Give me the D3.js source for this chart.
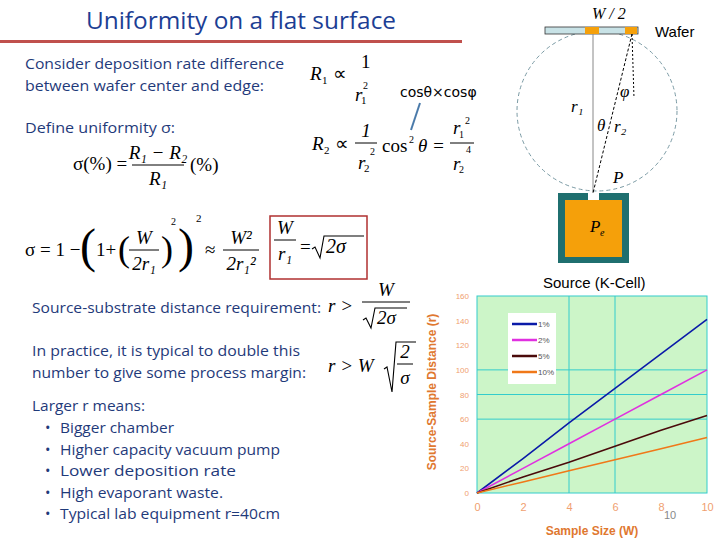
<!DOCTYPE html>
<html><head><meta charset="utf-8">
<script src="https://cdn.jsdelivr.net/npm/d3@7"></script>
<style>body{margin:0;background:#fff}svg{display:block}</style></head>
<body><svg id="s" width="720" height="540"></svg>
<script>
const sizes = [0, 2, 4, 6, 8, 10];
const seriesNames = ["1%", "2%", "5%", "10%"];
const r1pct = [0, 28, 57, 85, 113, 141];
const r2pct = [0, 20, 40, 60, 80, 100];
const r5pct = [0, 13, 25, 38, 51, 63];
const r10pct = [0, 9, 18, 27, 36, 45];
const xTicks = [0, 2, 4, 6, 8, 10];
const yTicks = [0, 20, 40, 60, 80, 100, 120, 140, 160];
const colors = ["#0a1aa8", "#e030e0", "#4a0a0a", "#f07818"];

const svg = d3.select("#s");
const blue = "#1f3a7a";
const sans = "'Open Sans', sans-serif";
const serif = "'Liberation Serif', serif";
function t(x, y, s, o = {}) {
  const e = svg.append("text").attr("x", x).attr("y", y).text(s)
    .attr("font-family", o.f || sans).attr("font-size", o.s || 14.5)
    .attr("fill", o.c || blue);
  if (o.i) e.attr("font-style", "italic");
  if (o.w) e.attr("font-weight", o.w);
  if (o.a) e.attr("text-anchor", o.a);
  return e;
}
function fit(e, w) { e.attr("textLength", w).attr("lengthAdjust", "spacingAndGlyphs"); return e; }
// title
fit(t(86, 29, "Uniformity on a flat surface", {s: 24, c: "#1c3e94"}), 310);
svg.append("rect").attr("x", 0).attr("y", 40).attr("width", 462).attr("height", 3).attr("fill", "#c0504d");
// text
fit(t(25, 69, "Consider deposition rate difference"), 259);
fit(t(25, 91, "between wafer center and edge:"), 239);
fit(t(25, 133, "Define uniformity σ:"), 150);
fit(t(32, 313, "Source-substrate distance requirement:"), 289);
fit(t(32, 356, "In practice, it is typical to double this"), 268);
fit(t(32, 378, "number to give some process margin:"), 274);
fit(t(32, 411, "Larger r means:"), 113);
const bullets = ["Bigger chamber", "Higher capacity vacuum pump", "Lower deposition rate", "High evaporant waste.", "Typical lab equipment r=40cm"];
const bw = [114, 220, 176, 163, 220];
bullets.forEach((s, i) => { t(45, 433 + i * 21.6, "•"); fit(t(60, 433 + i * 21.6, s), bw[i]); });

// formulas
const F = {f: serif, c: "#000", s: 19};
function frac(x, y, w, num, den) {
  svg.append("line").attr("x1", x).attr("x2", x + w).attr("y1", y).attr("y2", y).attr("stroke", "#000").attr("stroke-width", 1);
  t(x + w / 2, y - 6, num, {...F, a: "middle"}).attr("font-style", "italic");
  t(x + w / 2, y + 20, den, {...F, a: "middle"}).attr("font-style", "italic");
}
function rad(x, y0, y1, w) {
  const m = (y0 + y1) / 2;
  svg.append("path").attr("d", `M${x},${m + 2} l3,-2 l5,${y1 - m} L${x + 12},${y0} H${x + 12 + w}`)
    .attr("fill", "none").attr("stroke", "#000").attr("stroke-width", 1.1);
}
t(310, 80, "R", {...F, i: 1}); t(322, 84, "1", {...F, s: 11}); t(333, 80, "∝", F);
t(361, 68, "1", F); t(355, 101, "r", {...F, i: 1}); t(361, 104, "1", {...F, s: 11}); t(363, 89, "2", {...F, s: 10});
t(400, 97, "cosθ×cosφ", {s: 14, c: "#000", f: "'DejaVu Sans', sans-serif"});
svg.append("line").attr("x1", 420).attr("y1", 103).attr("x2", 411).attr("y2", 130).attr("stroke", "#4a7aaa").attr("stroke-width", 2);
t(312, 150, "R", {...F, i: 1}); t(324, 154, "2", {...F, s: 11}); t(335, 150, "∝", F);
frac(355, 143, 22, "1", ""); t(358, 169, "r", {...F, i: 1}); t(364, 172, "2", {...F, s: 11}); t(370, 155, "2", {...F, s: 10});
t(382, 152, "cos", F); t(409, 143, "2", {...F, s: 10}); t(418, 152, "θ =", {...F, i: 1});
frac(450, 143, 24, "", ""); t(453, 134, "r", {...F, i: 1}); t(459, 138, "1", {...F, s: 10}); t(465, 124, "2", {...F, s: 10});
t(453, 170, "r", {...F, i: 1}); t(459, 173, "2", {...F, s: 10}); t(466, 153, "4", {...F, s: 10});

t(73, 170, "σ(%) =", F);
frac(132, 165, 52, "R₁ − R₂", "R₁"); t(190, 171, "(%)", F);

t(25, 256, "σ = 1 − ", F); t(80, 262, "(", {...F, s: 48}); t(96, 256, "1+", F);
t(118, 261, "(", {...F, s: 36}); frac(129, 250, 30, "W", "2r₁"); t(161, 261, ")", {...F, s: 36}); t(171, 225, "2", {...F, s: 10});
t(178, 262, ")", {...F, s: 48}); t(196, 222, "2", {...F, s: 11});
t(205, 256, "≈", F); frac(223, 250, 36, "W²", "2r₁²");
svg.append("rect").attr("x", 270).attr("y", 216).attr("width", 97).attr("height", 63).attr("fill", "none").attr("stroke", "#b03030").attr("stroke-width", 1.5);
frac(274, 240, 22, "W", "r₁"); t(300, 253, "=", F);
rad(312, 236, 258, 40); t(326, 253, "2σ", {...F, s: 20}).attr("font-style", "italic");
t(328, 312, "r >", {...F, i: 1}); svg.append("line").attr("x1", 362).attr("x2", 410).attr("y1", 302).attr("y2", 302).attr("stroke", "#000");
t(386, 296, "W", {...F, a: "middle", i: 1}); rad(363, 308, 328, 32); t(377, 324, "2σ", {...F, i: 1});
t(328, 372, "r > W", {...F, i: 1}); rad(384, 342, 392, 20); frac(397, 364, 16, "2", "σ");

// diagram
const dg = svg.append("g");
dg.append("circle").attr("cx", 597).attr("cy", 111).attr("r", 80).attr("fill", "none").attr("stroke", "#7a9aa4").attr("stroke-dasharray", "4,3");
dg.append("rect").attr("x", 545).attr("y", 27).attr("width", 93).attr("height", 7).attr("fill", "#c8e2e6").attr("stroke", "#333").attr("stroke-width", 0.8);
dg.append("rect").attr("x", 585).attr("y", 27).attr("width", 14).attr("height", 7).attr("fill", "#f5a00a");
dg.append("rect").attr("x", 625).attr("y", 27).attr("width", 12).attr("height", 7).attr("fill", "#f5a00a");
dg.append("line").attr("x1", 593).attr("y1", 34).attr("x2", 593).attr("y2", 193).attr("stroke", "#888");
dg.append("line").attr("x1", 632).attr("y1", 34).attr("x2", 593).attr("y2", 193).attr("stroke", "#000").attr("stroke-dasharray", "3,2");
dg.append("line").attr("x1", 632).attr("y1", 34).attr("x2", 634).attr("y2", 98).attr("stroke", "#000").attr("stroke-dasharray", "2,2");
dg.append("rect").attr("x", 558).attr("y", 193).attr("width", 71).attr("height", 70).attr("fill", "#1f6f6f");
dg.append("rect").attr("x", 565).attr("y", 200).attr("width", 57).attr("height", 57).attr("fill", "#f5a00a");
dg.append("rect").attr("x", 588).attr("y", 193).attr("width", 11).attr("height", 7).attr("fill", "#fff");
t(592, 19, "W / 2", {...F, s: 16, i: 1});
t(655, 37, "Wafer", {s: 15, c: "#000", f: "'Liberation Sans', sans-serif"});
t(571, 112, "r₁", {...F, s: 17, i: 1});
t(620, 97, "φ", {...F, s: 17, i: 1});
t(597, 131, "θ", {...F, s: 17, i: 1});
t(614, 132, "r₂", {...F, s: 17, i: 1});
t(613, 183, "P", {...F, s: 17, i: 1});
t(590, 232, "P", {...F, s: 17, i: 1}); t(600, 236, "e", {...F, s: 10, i: 1});
t(543, 288, "Source (K-Cell)", {s: 15, c: "#000", f: "'Liberation Sans', sans-serif"});

// chart
const x = d3.scaleLinear().domain([0, 10]).range([477, 707]);
const y = d3.scaleLinear().domain([0, 160]).range([493, 296]);
const g = svg.append("g");
g.append("rect").attr("x", x(0)).attr("y", y(160)).attr("width", x(10) - x(0)).attr("height", y(0) - y(160)).attr("fill", "#ccf5c8");
[4, 6].forEach(v => g.append("line").attr("x1", x(v)).attr("x2", x(v)).attr("y1", y(0)).attr("y2", y(160)).attr("stroke", "#33cccc"));
[60, 80, 100].forEach(v => g.append("line").attr("x1", x(0)).attr("x2", x(10)).attr("y1", y(v)).attr("y2", y(v)).attr("stroke", "#33cccc"));
g.append("rect").attr("x", x(0)).attr("y", y(160)).attr("width", x(10) - x(0)).attr("height", y(0) - y(160)).attr("fill", "none").attr("stroke", "#33cccc");
const ya = g.append("g").attr("transform", `translate(${x(0)},0)`).call(d3.axisLeft(y).tickValues(yTicks).tickSize(0).tickPadding(8));
const xa = g.append("g").attr("transform", `translate(0,${y(0)})`).call(d3.axisBottom(x).tickValues(xTicks).tickSize(0).tickPadding(10));
[ya, xa].forEach(a => { a.select(".domain").remove(); a.selectAll("text").attr("fill", "#f0a070").attr("font-family", "'Liberation Sans', sans-serif"); });
ya.selectAll("text").attr("font-size", 8);
xa.selectAll("text").attr("font-size", 11);
const data = [r1pct, r2pct, r5pct, r10pct];
const line = d3.line().x((d, i) => x(sizes[i])).y(d => y(d));
data.forEach((d, k) => g.append("path").attr("d", line(d)).attr("fill", "none").attr("stroke", colors[k]).attr("stroke-width", 1.6));
g.append("rect").attr("x", 508).attr("y", 313).attr("width", 48).attr("height", 71).attr("fill", "#fff");
seriesNames.forEach((n, k) => {
  const yy = 324 + k * 16;
  g.append("line").attr("x1", 512).attr("x2", 537).attr("y1", yy).attr("y2", yy).attr("stroke", colors[k]).attr("stroke-width", 2.5);
  t(538, yy + 3, n, {s: 8, c: "#555", f: "'Liberation Sans', sans-serif"});
});
t(592, 535, "Sample Size (W)", {s: 12, w: "bold", c: "#e07830", a: "middle", f: "'Liberation Sans', sans-serif"});
t(0, 0, "Source-Sample Distance (r)", {s: 12, w: "bold", c: "#e07830", a: "middle", f: "'Liberation Sans', sans-serif"})
  .attr("transform", "translate(436,392) rotate(-90)");
t(664, 519, "10", {s: 11, c: "#888", f: "'Liberation Sans', sans-serif"});
</script></body></html>
